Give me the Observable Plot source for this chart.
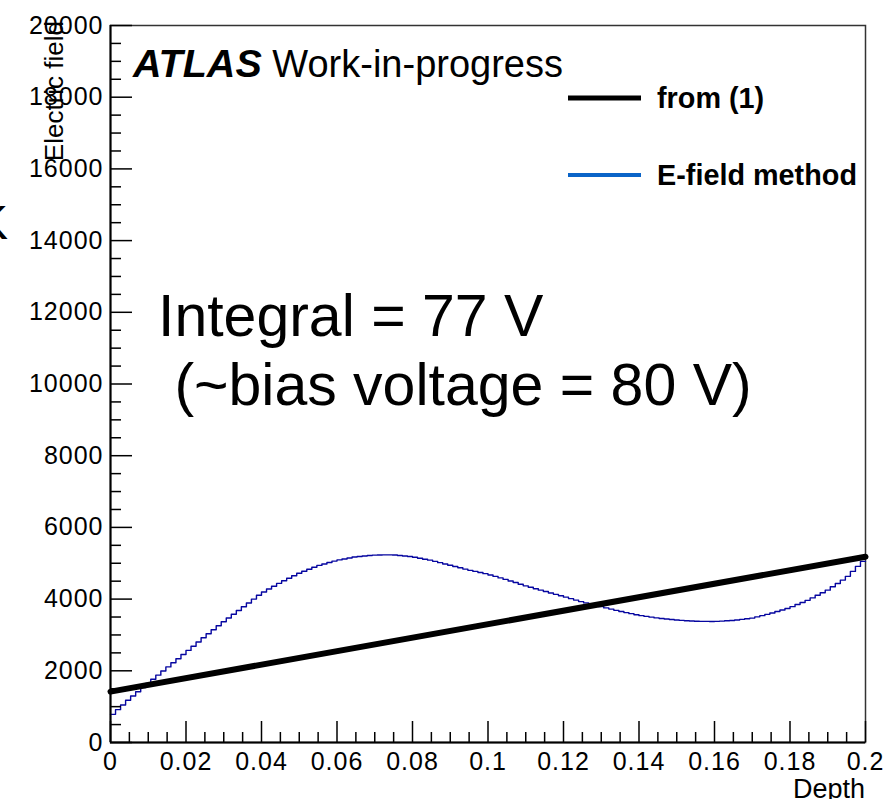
<!DOCTYPE html>
<html><head><meta charset="utf-8">
<script src="https://cdn.jsdelivr.net/npm/d3@7"></script>
<script src="https://cdn.jsdelivr.net/npm/@observablehq/plot@0.6"></script>
<style>body{margin:0;background:#fff} #chart svg{overflow:hidden}</style>
</head><body><div id="chart"></div>
<script>
// ---- data ----
const depthDomain = [0, 0.2];
const fieldDomain = [0, 20000];
// E-field method histogram (150 bins over depth 0..0.2)
const binValues = [
  785, 916, 1047, 1177, 1298, 1415, 1533, 1650, 1765, 1879,
  1994, 2109, 2223, 2338, 2453, 2569, 2686, 2803, 2921, 3034,
  3146, 3258, 3370, 3474, 3578, 3682, 3787, 3893, 4000, 4107,
  4200, 4280, 4360, 4440, 4512, 4581, 4651, 4720, 4776, 4832,
  4888, 4940, 4980, 5020, 5060, 5093, 5120, 5147, 5173, 5190,
  5202, 5215, 5228, 5232, 5233, 5234, 5230, 5216, 5202, 5187,
  5167, 5140, 5113, 5087, 5053, 5017, 4981, 4945, 4909, 4873,
  4837, 4802, 4772, 4741, 4710, 4674, 4633, 4592, 4550, 4506,
  4461, 4415, 4370, 4330, 4290, 4250, 4210, 4172, 4133, 4094,
  4054, 4013, 3972, 3930, 3894, 3859, 3825, 3790, 3755, 3721,
  3686, 3653, 3623, 3594, 3565, 3539, 3518, 3497, 3475, 3459,
  3444, 3430, 3415, 3406, 3398, 3389, 3382, 3380, 3378, 3376,
  3379, 3387, 3395, 3403, 3418, 3435, 3453, 3470, 3505, 3539,
  3574, 3611, 3653, 3696, 3739, 3789, 3848, 3907, 3965, 4034,
  4106, 4178, 4250, 4343, 4437, 4530, 4635, 4773, 4912, 5051
];
// "from (1)" straight line
const lineDepth = [0, 0.2];
const lineField = [1420, 5180];
// ticks
const xTicks = [0, 0.02, 0.04, 0.06, 0.08, 0.1, 0.12, 0.14, 0.16, 0.18, 0.2];
const xTickLabels = ["0", "0.02", "0.04", "0.06", "0.08", "0.1", "0.12", "0.14", "0.16", "0.18", "0.2"];
const yTicks = [0, 2000, 4000, 6000, 8000, 10000, 12000, 14000, 16000, 18000, 20000];
const yTickLabels = ["0", "2000", "4000", "6000", "8000", "10000", "12000", "14000", "16000", "18000", "20000"];
const legendLabels = ["from (1)", "E-field method"];
const xTitle = "Depth";
const yTitle = "Electric field";
const annotationLines = ["Integral = 77 V", " (~bias voltage = 80 V)"];

// ---- derived tables ----
const nBins = binValues.length;
const binW = (depthDomain[1] - depthDomain[0]) / nBins;
const stepData = binValues.map((v, i) => ({x: depthDomain[0] + i * binW, y: v}));
stepData.push({x: depthDomain[1], y: binValues[nBins - 1]});
const lineData = lineDepth.map((d, i) => ({x: d, y: lineField[i]}));
const xMinor = d3.range(0, 41).map(i => i * 0.005).filter((d, i) => i % 4 !== 0);
const yMinor = d3.range(0, 41).map(i => i * 500).filter((d, i) => i % 4 !== 0);
const xLab = new Map(xTicks.map((t, i) => [t, xTickLabels[i]]));
const yLab = new Map(yTicks.map((t, i) => [t, yTickLabels[i]]));

const FONT = "Liberation Sans, Arial, Helvetica, sans-serif";

const plot = Plot.plot({
  width: 888, height: 799,
  marginLeft: 110, marginRight: 23, marginTop: 25, marginBottom: 57,
  style: {fontFamily: FONT, fontSize: "25px", color: "black", background: "white"},
  x: {domain: depthDomain},
  y: {domain: fieldDomain},
  marks: [
    Plot.frame({stroke: "#333", strokeWidth: 1.5}),
    Plot.line(stepData, {x: "x", y: "y", curve: "step-after", stroke: "#0606a0", strokeWidth: 1.4}),
    Plot.line(lineData, {x: "x", y: "y", stroke: "black", strokeWidth: 6}),
    Plot.axisX({ticks: xMinor, tickSize: -10, tickFormat: () => "", strokeWidth: 1.5, label: null}),
    Plot.axisX({ticks: xTicks, tickSize: -21, tickFormat: () => "", strokeWidth: 1.5, label: null}),
    Plot.axisX({ticks: xTicks, tickSize: 0, tickPadding: 10, tickFormat: d => xLab.get(d), label: null}),
    Plot.axisY({ticks: yMinor, tickSize: -11, tickFormat: () => "", strokeWidth: 1.5, label: null}),
    Plot.axisY({ticks: yTicks, tickSize: -22, tickFormat: () => "", strokeWidth: 1.5, label: null}),
    Plot.axisY({ticks: yTicks, tickSize: 0, tickPadding: 7, tickFormat: d => yLab.get(d), label: null}),
    Plot.ruleX([0], {stroke: "black", strokeWidth: 2}),
    Plot.ruleY([0], {stroke: "black", strokeWidth: 2})
  ]
});
document.getElementById("chart").appendChild(plot);

const svg = d3.select(plot);
svg.selectAll('[aria-label="x-axis tick label"] text, [aria-label="y-axis tick label"] text')
  .attr("letter-spacing", 1);

const g = svg.append("g").attr("font-family", FONT).attr("fill", "black").attr("text-anchor", "start");
// axis titles
g.append("text").attr("x", 865).attr("y", 798).attr("text-anchor", "end")
  .attr("font-size", 27).text(xTitle);
g.append("text").attr("transform", "translate(63,21) rotate(-90)").attr("text-anchor", "end")
  .attr("font-size", 26).text(yTitle);
// stray glyph at far left edge
g.append("text").attr("x", -24).attr("y", 239).attr("font-size", 48).text("K");
// ATLAS label
const at = g.append("text").attr("x", 133).attr("y", 77).attr("font-size", 38);
at.append("tspan").attr("font-weight", "bold").attr("font-style", "italic").attr("font-size", 39.5).text("ATLAS");
at.append("tspan").text(" Work-in-progress");
// legend
const legColors = ["black", "#0a64c8"];
const legY = [98, 175];
legendLabels.forEach((lab, i) => {
  g.append("line").attr("x1", 568).attr("x2", 641).attr("y1", legY[i]).attr("y2", legY[i])
    .attr("stroke", legColors[i]).attr("stroke-width", i === 0 ? 5 : 4);
  g.append("text").attr("x", 657).attr("y", legY[i] + 10).attr("font-size", 28.8)
    .attr("font-weight", "bold").text(lab);
});
// annotation
g.append("text").attr("x", 158).attr("y", 336).attr("font-size", 59).text(annotationLines[0]);
g.append("text").attr("x", 158).attr("y", 405).attr("font-size", 59)
  .attr("xml:space", "preserve").style("white-space", "pre").text(annotationLines[1]);
</script>
</body></html>
